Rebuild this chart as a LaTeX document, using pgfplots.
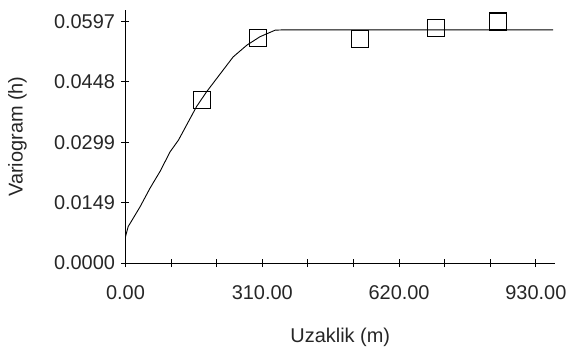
\documentclass[border=0pt]{standalone}
\usepackage{fontspec}
\setmainfont{Liberation Sans}
\usepackage{pgfplots}
\pgfplotsset{compat=1.18}
\begin{document}
\begin{tikzpicture}
\path[use as bounding box] (-125.5bp,-86bp) rectangle (445.5bp,263bp);
\begin{axis}[
  scale only axis,
  width=429.5bp, height=253bp,
  xmin=0, xmax=973.3, ymin=0, ymax=0.0626,
  scaled y ticks=false, scaled x ticks=false,
  axis lines*=left,
  axis line style={line width=1bp, black},
  every tick/.style={black, line width=1bp},
  tick align=center,
  major tick length=8bp, minor tick length=8bp,
  xtick={0,310,620,930},
  xticklabels={0.00,310.00,620.00,930.00},
  ytick={0,0.0149,0.0299,0.0448,0.0597},
  yticklabels={0.0000,0.0149,0.0299,0.0448,0.0597},
  minor x tick num=2, minor y tick num=2,
  ticklabel style={font=\fontsize{20}{23}\selectfont, text=black!85},
  xticklabel style={yshift=-15bp},
  yticklabel style={xshift=-3bp},
  label style={font=\fontsize{20}{23}\selectfont, text=black!85},
  xlabel={Uzaklik (m)},
  ylabel={Variogram (h)},
  xlabel style={at={(axis description cs:0.5,0)}, anchor=center, yshift=-74bp},
  ylabel style={at={(axis description cs:-0.2515,0.5)}, anchor=center},
  clip=false,
]
\addplot[black, line width=0.9bp] coordinates {
 (0,0.0065) (6,0.0090) (33,0.0139) (55.5,0.0185) (78,0.0226) (101,0.0275)
 (120,0.0304) (161,0.0387) (184,0.0424) (207,0.0457) (244,0.0510)
 (275,0.0539) (305,0.0560) (339,0.0576) (360,0.0577) (969,0.0577)
};
\addplot[only marks, mark=square, mark size=8.5bp, mark options={line width=1.4bp, black}] coordinates {
 (172.7,0.0404) (299.6,0.05566) (531.4,0.05541) (703.6,0.05814) (844.8,0.05977)
};
\end{axis}
\end{tikzpicture}
\end{document}
